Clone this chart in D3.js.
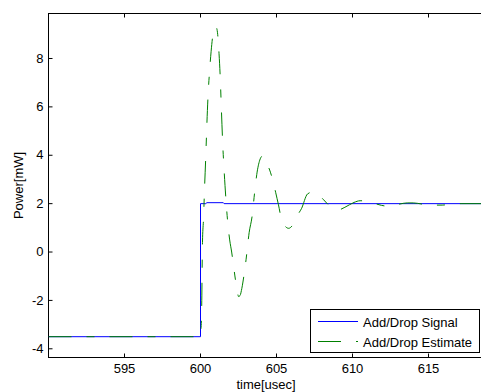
<!DOCTYPE html>
<html>
<head>
<meta charset="utf-8">
<script src="https://cdn.jsdelivr.net/npm/d3@7"></script>
<style>
    body { margin: 0; background: #fff; }
    svg { display: block; }
    text { font-family: "Liberation Sans", Arial, sans-serif; font-size: 13px; fill: #000; }
</style>
</head>
<body>
<div id="chart"></div>
<script>
// Add/Drop signal (step at 600 usec)
const signalTime = [590, 600, 600, 600.35, 600.42, 601.5, 601.55, 620];
const signalPower = [-3.5, -3.5, 2.0, 2.0, 2.04, 2.04, 2.0, 2.0];

// Add/Drop estimate, read off the damped ringing after the step
const estimateTime = [590, 600, 600.02, 600.07, 600.13, 600.2, 600.27, 600.35, 600.42, 600.5,
    600.6, 600.7, 600.82, 600.95, 601.05, 601.13, 601.22, 601.3, 601.38, 601.46,
    601.56, 601.66, 601.78, 601.92, 602.05, 602.18, 602.3, 602.42, 602.5, 602.6,
    602.72, 602.85, 603.0, 603.2, 603.4, 603.55, 603.7, 603.9, 604.08, 604.25,
    604.45, 604.6, 604.8, 604.95, 605.13, 605.33, 605.53, 605.8, 606.05, 606.4,
    606.64, 607.04, 607.37, 607.76, 608.1, 608.5, 608.8, 609.05, 609.5, 610.1,
    610.5, 611.0, 611.4, 611.9, 612.4, 613.0, 613.6, 614.0, 614.6, 615.2,
    615.9, 616.5, 617.2, 620];
const estimatePower = [-3.5, -3.5, -3.3, -2.6, 0.4, 1.4, 2.7, 4.0, 5.3, 6.5,
    7.5, 8.3, 9.0, 9.3, 9.27, 9.0, 8.2, 7.2, 5.8, 4.5,
    3.3, 2.3, 1.3, 0.5, 0.0, -0.6, -1.15, -1.6, -1.84, -1.8,
    -1.5, -1.0, -0.3, 0.8, 1.5, 2.4, 3.2, 3.8, 3.97, 3.85,
    3.55, 3.3, 2.85, 2.45, 1.95, 1.35, 1.1, 0.98, 1.1, 1.54,
    1.79, 2.4, 2.48, 2.37, 2.16, 1.9, 1.78, 1.74, 1.85, 2.05,
    2.12, 2.1, 2.02, 1.93, 1.89, 1.97, 2.03, 2.03, 1.98, 1.94,
    1.94, 1.98, 2.0, 2.0];

const xTicks = [595, 600, 605, 610, 615];
const yTicks = [-4, -2, 0, 2, 4, 6, 8];
const seriesNames = ['Add/Drop Signal', 'Add/Drop Estimate'];
const seriesColors = ['#0000ff', '#008000'];

const width = 481;
const height = 392;
const plot = { left: 48.5, top: 13.5, right: 504.5, bottom: 357.5 };
const dash = '23,15,8,15';

const x = d3.scaleLinear().domain([590, 620]).range([plot.left, plot.right]);
const y = d3.scaleLinear().domain([-4.36, 9.86]).range([plot.bottom, plot.top]);

const svg = d3.select('#chart').append('svg')
    .attr('width', width)
    .attr('height', height);

svg.append('defs').append('clipPath').attr('id', 'clip')
    .append('rect')
    .attr('x', plot.left).attr('y', plot.top)
    .attr('width', plot.right - plot.left).attr('height', plot.bottom - plot.top);

// Axes: ticks point inward, MATLAB style box
const axisBottom = d3.axisBottom(x).tickValues(xTicks).tickSize(-4).tickPadding(6)
    .tickSizeOuter(0).offset(0).tickFormat(d => String(d));
const axisTop = d3.axisTop(x).tickValues(xTicks).tickSize(-4)
    .tickSizeOuter(0).offset(0).tickFormat('');
const axisLeft = d3.axisLeft(y).tickValues(yTicks).tickSize(-4).tickPadding(5)
    .tickSizeOuter(0).offset(0).tickFormat(d => String(d));

svg.append('g').attr('transform', `translate(0,${plot.bottom})`).call(axisBottom);
svg.append('g').attr('transform', `translate(0,${plot.top})`).call(axisTop);
svg.append('g').attr('transform', `translate(${plot.left},0)`).call(axisLeft);

svg.selectAll('.domain').remove();
svg.selectAll('.tick line').attr('stroke', '#000');
svg.selectAll('.tick text').attr('font-size', null).attr('font-family', null);

svg.append('rect')
    .attr('x', plot.left).attr('y', plot.top)
    .attr('width', plot.right - plot.left).attr('height', plot.bottom - plot.top)
    .attr('fill', 'none')
    .attr('stroke', '#000')
    .attr('stroke-width', 1);

const lines = svg.append('g').attr('clip-path', 'url(#clip)');

const signalLine = d3.line()
    .x((d, i) => x(signalTime[i]))
    .y(d => y(d));

lines.append('path')
    .datum(signalPower)
    .attr('d', signalLine)
    .attr('fill', 'none')
    .attr('stroke', seriesColors[0])
    .attr('stroke-width', 1);

const estimateLine = d3.line()
    .x((d, i) => x(estimateTime[i]))
    .y(d => y(d))
    .curve(d3.curveMonotoneX);

lines.append('path')
    .datum(estimatePower)
    .attr('d', estimateLine)
    .attr('fill', 'none')
    .attr('stroke', seriesColors[1])
    .attr('stroke-width', 1)
    .attr('stroke-dasharray', dash);

// Axis labels
svg.append('text')
    .attr('x', 266)
    .attr('y', 389)
    .attr('text-anchor', 'middle')
    .text('time[usec]');

svg.append('text')
    .attr('transform', `translate(23,${(plot.top + plot.bottom) / 2}) rotate(-90)`)
    .attr('text-anchor', 'middle')
    .text('Power[mW]');

// Legend
const legend = svg.append('g');
legend.append('rect')
    .attr('x', 310.5).attr('y', 309.5)
    .attr('width', 169).attr('height', 43)
    .attr('fill', '#fff')
    .attr('stroke', '#000')
    .attr('stroke-width', 1);

const rowY = [321.5, 341.5];
seriesNames.forEach((name, i) => {
    legend.append('line')
        .attr('x1', 318).attr('x2', 358)
        .attr('y1', rowY[i]).attr('y2', rowY[i])
        .attr('stroke', seriesColors[i])
        .attr('stroke-width', 1)
        .attr('stroke-dasharray', i === 1 ? dash : null);
    legend.append('text')
        .attr('x', 363)
        .attr('y', rowY[i] + 5)
        .text(name);
});
</script>
</body>
</html>
